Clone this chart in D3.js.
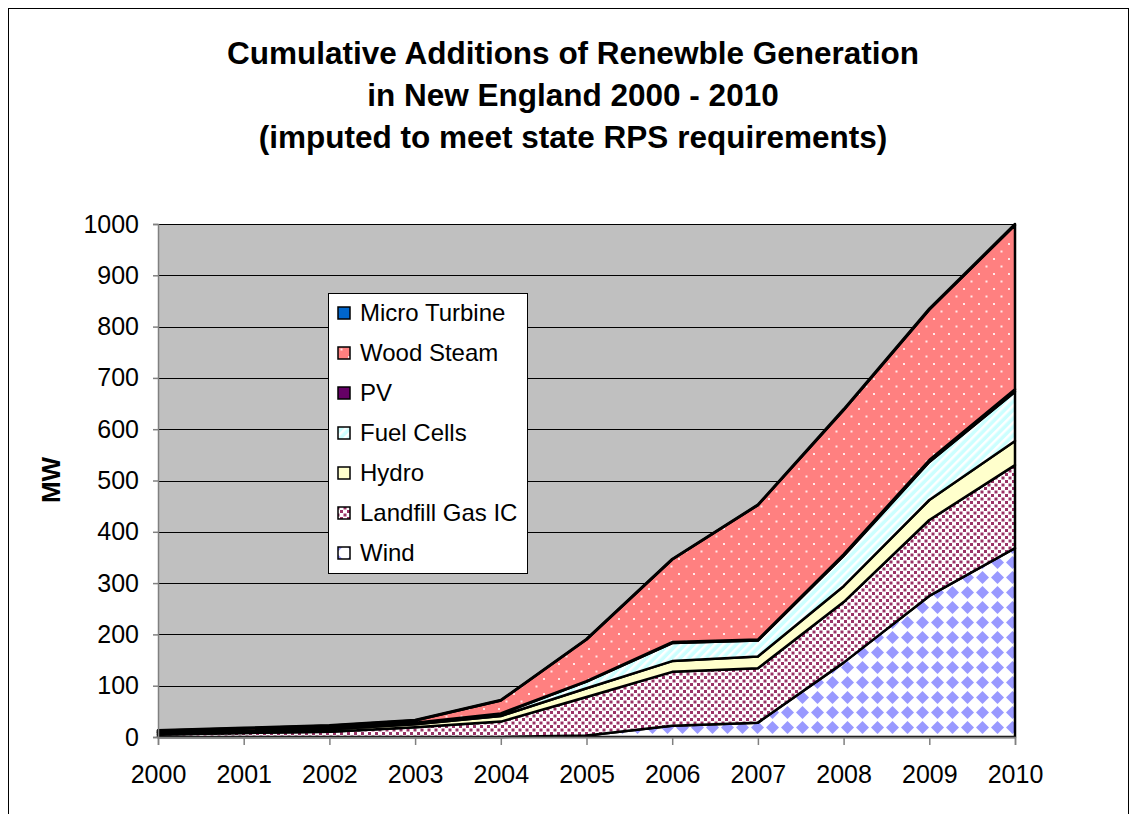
<!DOCTYPE html>
<html>
<head>
<meta charset="utf-8">
<script src="https://cdn.jsdelivr.net/npm/d3@7"></script>
<style>
  html, body { margin: 0; padding: 0; background: #fff; }
  svg { display: block; font-family: "Liberation Sans", Arial, sans-serif; }
</style>
</head>
<body>
<svg id="chart" width="1134" height="814"></svg>
<script>
// ---- Data (MW, incremental per technology, stacked bottom -> top) ----
const years = [2000, 2001, 2002, 2003, 2004, 2005, 2006, 2007, 2008, 2009, 2010];
const wind         = [0, 0, 0, 0, 0, 3, 22, 28, 145, 275, 368];
const landfillGas  = [5, 8, 10, 19, 30, 75, 105, 106, 118, 148, 162];
const hydro        = [3, 4, 5, 6, 11, 17, 21, 23, 31, 39, 47];
const fuelCells    = [1, 1, 2, 2, 4, 13, 35, 31, 59, 74, 96];
const pv           = [1, 1, 1, 1, 1, 1, 2, 2, 3, 4, 5];
const woodSteam    = [2, 3, 4, 4, 25, 81, 161, 262, 281, 293, 320];
const microTurbine = [1, 1, 1, 1, 1, 1, 1, 1, 2, 2, 2];

const seriesNames = ["Wind", "Landfill Gas IC", "Hydro", "Fuel Cells", "PV", "Wood Steam", "Micro Turbine"];
const seriesValues = [wind, landfillGas, hydro, fuelCells, pv, woodSteam, microTurbine];
const yTicks = [0, 100, 200, 300, 400, 500, 600, 700, 800, 900, 1000];
const titleLines = ["Cumulative Additions of Renewble Generation", "in New England 2000 - 2010", "(imputed to meet state RPS requirements)"];
const yAxisTitle = "MW";

// ---- Setup ----
const svg = d3.select("#chart");
const fillIds = ["pWind", "pLandfill", "pHydro", "pFuel", "pPV", "pWood", "pMicro"];

const defs = svg.append("defs");
// Wind: blue diamonds on white
{
  const p = defs.append("pattern").attr("id", "pWind").attr("patternUnits", "userSpaceOnUse")
    .attr("width", 15).attr("height", 15);
  p.append("rect").attr("width", 15).attr("height", 15).attr("fill", "#ffffff");
  p.append("path").attr("d", "M7.5,1 L14,7.5 L7.5,14 L1,7.5 Z").attr("fill", "#9999ff");
}
// Landfill: maroon small squares on white
{
  const p = defs.append("pattern").attr("id", "pLandfill").attr("patternUnits", "userSpaceOnUse")
    .attr("width", 7).attr("height", 7);
  p.append("rect").attr("width", 7).attr("height", 7).attr("fill", "#ffffff");
  p.append("rect").attr("x", 0.5).attr("y", 0.5).attr("width", 3).attr("height", 3).attr("fill", "#993366");
  p.append("rect").attr("x", 4).attr("y", 4).attr("width", 3).attr("height", 3).attr("fill", "#993366");
}
// Hydro: solid light yellow
{
  const p = defs.append("pattern").attr("id", "pHydro").attr("patternUnits", "userSpaceOnUse")
    .attr("width", 4).attr("height", 4);
  p.append("rect").attr("width", 4).attr("height", 4).attr("fill", "#ffffcc");
}
// Fuel cells: light cyan with white diagonal stripes
{
  const p = defs.append("pattern").attr("id", "pFuel").attr("patternUnits", "userSpaceOnUse")
    .attr("width", 6).attr("height", 6).attr("patternTransform", "rotate(45)");
  p.append("rect").attr("width", 6).attr("height", 6).attr("fill", "#ccffff");
  p.append("rect").attr("width", 2.5).attr("height", 6).attr("fill", "#ffffff");
}
// PV: solid purple
{
  const p = defs.append("pattern").attr("id", "pPV").attr("patternUnits", "userSpaceOnUse")
    .attr("width", 4).attr("height", 4);
  p.append("rect").attr("width", 4).attr("height", 4).attr("fill", "#660066");
}
// Wood steam: salmon with white dots
{
  const p = defs.append("pattern").attr("id", "pWood").attr("patternUnits", "userSpaceOnUse")
    .attr("width", 15).attr("height", 15);
  p.append("rect").attr("width", 15).attr("height", 15).attr("fill", "#ff8080");
  p.append("rect").attr("x", 3).attr("y", 3).attr("width", 2).attr("height", 2).attr("fill", "#ffe8e8");
  p.append("rect").attr("x", 10.5).attr("y", 10.5).attr("width", 2).attr("height", 2).attr("fill", "#ffe8e8");
}
// Micro turbine: solid blue
{
  const p = defs.append("pattern").attr("id", "pMicro").attr("patternUnits", "userSpaceOnUse")
    .attr("width", 4).attr("height", 4);
  p.append("rect").attr("width", 4).attr("height", 4).attr("fill", "#0066cc");
}

// Outer chart border
svg.append("rect").attr("x", 8.5).attr("y", 8.5).attr("width", 1120).attr("height", 830)
  .attr("fill", "#ffffff").attr("stroke", "#000").attr("stroke-width", 1);

// Scales
const x = d3.scaleLinear().domain([years[0], years[years.length - 1]]).range([158, 1015]);
const y = d3.scaleLinear().domain([0, 1000]).range([737, 224]);

// Plot background
svg.append("rect").attr("x", x(2000)).attr("y", y(1000)).attr("width", x(2010) - x(2000)).attr("height", y(0) - y(1000))
  .attr("fill", "#c0c0c0");

// Gridlines
svg.append("g").selectAll("line").data(yTicks.filter(d => d > 0)).join("line")
  .attr("x1", x(2000)).attr("x2", x(2010))
  .attr("y1", d => Math.round(y(d)) + 0.5).attr("y2", d => Math.round(y(d)) + 0.5)
  .attr("stroke", "#000").attr("stroke-width", 1);

// Stack data
const table = years.map((yr, i) => {
  const row = { year: yr };
  seriesNames.forEach((n, k) => row[n] = seriesValues[k][i]);
  return row;
});
const stacked = d3.stack().keys(seriesNames)(table);

const area = d3.area()
  .x(d => x(d.data.year))
  .y0(d => y(d[0]))
  .y1(d => y(d[1]));

svg.append("g").selectAll("path").data(stacked).join("path")
  .attr("d", area)
  .attr("fill", (d, i) => `url(#${fillIds[i]})`)
  .attr("stroke", "#000").attr("stroke-width", 2.5).attr("stroke-linejoin", "round");

// Axes
const yAxis = svg.append("g").attr("transform", `translate(${x(2000)},0)`)
  .call(d3.axisLeft(y).tickValues(yTicks).tickSize(5).tickPadding(14).tickFormat(d3.format("d")));
yAxis.select(".domain").attr("stroke", "#808080").attr("stroke-width", 1.5);
yAxis.selectAll(".tick line").attr("stroke", "#808080").attr("stroke-width", 1.5);
yAxis.selectAll("text").attr("font-size", 25).attr("fill", "#000")
  .attr("font-family", "'Liberation Sans', Arial, sans-serif");

const xAxis = svg.append("g").attr("transform", `translate(0,${y(0)})`)
  .call(d3.axisBottom(x).tickValues(years).tickSize(8).tickPadding(20).tickFormat(d3.format("d")));
xAxis.select(".domain").attr("stroke", "#808080").attr("stroke-width", 1.5);
xAxis.selectAll(".tick line").attr("stroke", "#808080").attr("stroke-width", 1.5);
xAxis.selectAll("text").attr("font-size", 25).attr("fill", "#000")
  .attr("font-family", "'Liberation Sans', Arial, sans-serif");

// Title
svg.append("g").selectAll("text").data(titleLines).join("text")
  .attr("x", 573).attr("y", (d, i) => 64 + i * 42)
  .attr("text-anchor", "middle").attr("font-size", 31.5).attr("font-weight", "bold")
  .text(d => d);

// Y axis title
svg.append("text").attr("transform", "translate(60,480) rotate(-90)")
  .attr("text-anchor", "middle").attr("font-size", 26).attr("font-weight", "bold")
  .text(yAxisTitle);

// Legend (top entry = top of stack)
const legend = svg.append("g");
legend.append("rect").attr("x", 328.5).attr("y", 293.5).attr("width", 199).attr("height", 280)
  .attr("fill", "#fff").attr("stroke", "#000").attr("stroke-width", 1);
const legendItems = seriesNames.map((n, i) => ({ name: n, id: fillIds[i] })).reverse();
const li = legend.selectAll("g.item").data(legendItems).join("g").attr("class", "item")
  .attr("transform", (d, i) => `translate(0,${313 + i * 40})`);
li.append("rect").attr("x", 338).attr("y", -6).attr("width", 12).attr("height", 12)
  .attr("fill", d => `url(#${d.id})`).attr("stroke", "#000").attr("stroke-width", 1.5);
li.append("text").attr("x", 360).attr("y", 8).attr("font-size", 24).text(d => d.name);
</script>
</body>
</html>
